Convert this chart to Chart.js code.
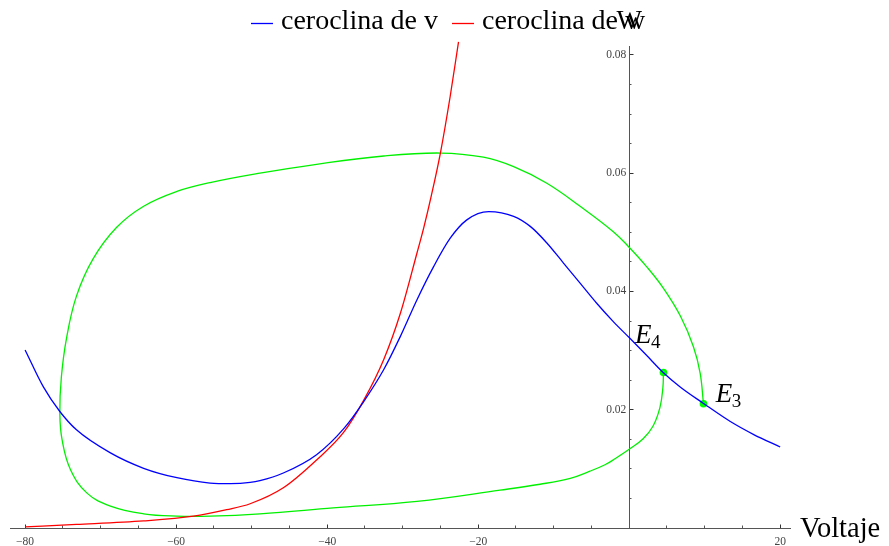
<!DOCTYPE html>
<html>
<head>
<meta charset="utf-8">
<script src="https://cdn.jsdelivr.net/npm/chart.js@4.4.1/dist/chart.umd.min.js"></script>
<style>
  html, body { margin: 0; padding: 0; background: #fff; }
  canvas { display: block; }
</style>
</head>
<body>
<canvas id="c" width="889" height="546"></canvas>
<script>
// ceroclina de v (blue)
const vNullV = [-80, -77.6, -75.4, -73.2, -68.7, -64.3, -59.9, -55.5, -52.8, -50.2, -48.9, -45.8, -41.4, -37.8, -35.2,
  -32.5, -30.3, -28.1, -25.9, -23.7, -21.5, -18.6, -15.3, -13.1, -10.9, -8.7, -6.5, -4.3, -2.1, 0,
  2.3, 4.5, 6.8, 9.8, 13.4, 16.5, 20];
const vNullW = [0.0301, 0.0239, 0.0197, 0.0166, 0.0127, 0.0101, 0.0085, 0.0076, 0.0075, 0.0077, 0.0080, 0.0093, 0.0124, 0.0168, 0.0213,
  0.0268, 0.0324, 0.0386, 0.0442, 0.0490, 0.0521, 0.0535, 0.0527, 0.0510, 0.0482, 0.0448, 0.0414, 0.0380, 0.0349, 0.0322,
  0.0292, 0.0263, 0.0238, 0.0211, 0.0180, 0.0158, 0.0137];

// ceroclina de w (red)
const wNullV = [-80, -73.2, -64.3, -57.7, -53.3, -50.2, -45.8, -41.4, -37.8, -35.2, -32.5, -30.3, -28.1, -27.2, -26.2, -25.0, -23.7, -22.6];
const wNullW = [0.0002, 0.0006, 0.0012, 0.0020, 0.0031, 0.0041, 0.0068, 0.0115, 0.0162, 0.0215, 0.0285, 0.0363, 0.0465, 0.0508, 0.0562, 0.0634, 0.0730, 0.0822];

// trajectory from E4 around to E3 (green)
const orbitV = [4.54, 4.47, 4.08, 3.15, 1.85, 0, -1.88, -3.2, -5.2, -7.8, -11.8, -17.1, -28.1, -39.2, -48.9, -55.5, -59.9, -64.3, -68.7, -71.8,
  -74.0, -75.1, -75.4, -75.2, -74.5, -73.2, -71.0, -67.9, -64.3, -59.9, -55.5, -48.9, -41.4, -32.5, -25.0, -19.3,
  -15.3, -10.9, -6.5, -2.1, -0.1, 2.3, 4.5, 6.8, 8.5, 9.4, 9.84];
const orbitW = [0.0263, 0.0238, 0.0204, 0.0172, 0.0151, 0.0133, 0.0117, 0.0107, 0.0096, 0.0084, 0.0074, 0.0064, 0.0045, 0.0034, 0.0024, 0.0020, 0.0020, 0.0024, 0.0037, 0.0059,
  0.0099, 0.0149, 0.0194, 0.0255, 0.0322, 0.0392, 0.0455, 0.0508, 0.0544, 0.0569, 0.0584, 0.0600, 0.0615, 0.0629, 0.0634, 0.0627,
  0.0611, 0.0583, 0.0544, 0.0501, 0.0476, 0.0442, 0.0406, 0.0358, 0.0307, 0.0262, 0.0210];

// equilibrium points
const eqNames = ['E4', 'E3'];
const eqV = [4.54, 9.84];
const eqW = [0.0263, 0.0210];

// axis ticks
const xTicks = [-80, -60, -40, -20, 20];
const yTicks = [0.02, 0.04, 0.06, 0.08];
const xMinor = [];
for (let v = -75; v <= 15; v += 5) if (v % 20 !== 0) xMinor.push(v);
const yMinor = [];
for (let k = 1; k <= 16; k++) if (k % 4 !== 0) yMinor.push(k * 0.005);

const serif = '"Liberation Serif", "Times New Roman", serif';
const pts = (xs, ys) => xs.map((v, i) => ({ x: v, y: ys[i] }));

// nullclines are functions of v, so monotone keeps them smooth
const nullcline = (data, color) => ({
  data, showLine: true, borderColor: color, borderWidth: 1.3,
  pointRadius: 0, cubicInterpolationMode: 'monotone', fill: false
});

const tickSet = arr => s => { s.ticks = arr.map(v => ({ value: v })); };

function axis(kind, major, opts) {
  const pos = kind === 'x' ? { y: 0 } : { x: 0 };
  const range = kind === 'x' ? { min: -82, max: 21.3 } : { min: 0, max: 0.0815 };
  return Object.assign({
    type: 'linear', position: pos, ...range,
    afterBuildTicks: tickSet(major),
    grid: { drawOnChartArea: false, drawTicks: true, tickLength: -4.5, tickColor: '#333', tickWidth: 1 },
    border: { display: true, color: '#555', width: 1 },
    ticks: { autoSkip: false, maxRotation: 0, color: '#444', font: { family: serif, size: 11.5 } }
  }, opts);
}

const labels = {
  id: 'labels',
  afterDatasetsDraw(chart) {
    const { ctx } = chart;
    const sx = chart.scales.x, sy = chart.scales.y;
    ctx.save();
    ctx.fillStyle = '#000';
    ctx.textBaseline = 'alphabetic';

    // legend
    ctx.lineWidth = 1.3;
    [['#0000ff', 251, 'ceroclina de v'], ['#ff0000', 452, 'ceroclina de w']].forEach(([c, x0, t]) => {
      ctx.strokeStyle = c;
      ctx.beginPath();
      ctx.moveTo(x0, 23.5);
      ctx.lineTo(x0 + 22, 23.5);
      ctx.stroke();
      ctx.font = '28px ' + serif;
      ctx.textAlign = 'left';
      ctx.fillText(t, x0 + 30, 28.5);
    });

    // axis titles
    ctx.font = '27px ' + serif;
    ctx.textAlign = 'center';
    ctx.fillText('W', sx.getPixelForValue(0), 29);
    ctx.font = '28.5px ' + serif;
    ctx.textAlign = 'left';
    ctx.fillText('Voltaje', 800, 537);

    // equilibrium labels
    const offs = [[-28.5, -29.4], [12.2, -2.3]];
    eqNames.forEach((n, i) => {
      const px = sx.getPixelForValue(eqV[i]) + offs[i][0];
      const py = sy.getPixelForValue(eqW[i]) + offs[i][1];
      ctx.font = 'italic 27px ' + serif;
      ctx.fillText(n[0], px, py);
      const w = ctx.measureText(n[0]).width;
      ctx.font = '19px ' + serif;
      ctx.fillText(n.slice(1), px + w - 0.5, py + 5);
    });
    ctx.restore();
  }
};

new Chart(document.getElementById('c'), {
  type: 'scatter',
  data: {
    datasets: [
      nullcline(pts(vNullV, vNullW), '#0000ff'),
      Object.assign(nullcline(pts(wNullV, wNullW), '#ff0000'), { clip: false }),
      { data: pts(orbitV, orbitW), showLine: true, borderColor: '#00f000', borderWidth: 1.3,
        pointRadius: 0, tension: 0.4, fill: false },
      { data: pts(eqV, eqW), pointRadius: 3.8, pointBackgroundColor: '#00ff00', pointBorderColor: '#00ff00',
        pointBorderWidth: 0, showLine: false }
    ]
  },
  options: {
    responsive: false,
    animation: false,
    layout: { padding: { left: 10, right: 99, top: 46, bottom: 18 } },
    plugins: { legend: { display: false }, tooltip: { enabled: false } },
    scales: {
      x: axis('x', xTicks, {
        ticks: { autoSkip: false, maxRotation: 0, padding: 12, color: '#444', font: { family: serif, size: 11.5 },
          callback: v => v < 0 ? '\u2212' + (-v) : String(v) }
      }),
      xm: axis('x', xMinor, {
        grid: { drawOnChartArea: false, tickLength: -2.5, tickColor: '#555', tickWidth: 1 },
        border: { display: false },
        ticks: { autoSkip: false, callback: () => '' }
      }),
      y: axis('y', yTicks, {
        ticks: { autoSkip: false, color: '#444', font: { family: serif, size: 11.5 },
          callback: v => v.toFixed(2) + ' ' }
      }),
      ym: axis('y', yMinor, {
        grid: { drawOnChartArea: false, tickLength: -2.5, tickColor: '#555', tickWidth: 1 },
        border: { display: false },
        ticks: { autoSkip: false, callback: () => '' }
      })
    }
  },
  plugins: [labels]
});
</script>
</body>
</html>
